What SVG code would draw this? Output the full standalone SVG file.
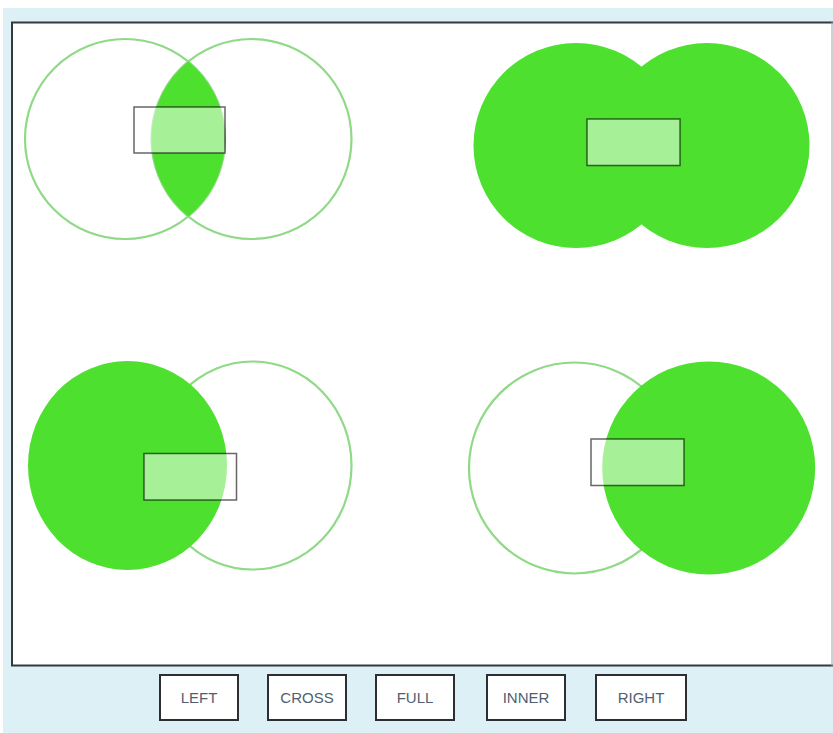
<svg xmlns="http://www.w3.org/2000/svg" width="833" height="733" viewBox="0 0 833 733">
<style>
.bg{fill:#dcf0f6}
.panel{fill:#ffffff;stroke:#333a3e;stroke-width:2}
.fill{fill:#4de02e}
.ring{fill:none;stroke:#8fd987;stroke-width:2.2}
.sel{fill:#ffffff;fill-opacity:0.5;stroke:#000;stroke-opacity:0.6;stroke-width:1.5}
.btn{fill:#ffffff;stroke:#2b2f33;stroke-width:2}
.lbl{font-family:"Liberation Sans",Arial,sans-serif;font-size:15px;fill:#4f6170;text-anchor:middle}
</style>
<rect x="0" y="0" width="833" height="733" fill="#ffffff"/>
<rect class="bg" x="3" y="8" width="830" height="725"/>
<rect class="panel" x="12" y="22.5" width="830" height="643"/>
<line x1="832" y1="22" x2="832" y2="666" stroke="#9aa3a8" stroke-width="1"/>

<g id="inner">
  <circle class="ring" cx="125" cy="139" r="100"/>
  <circle class="ring" cx="251.5" cy="139" r="100"/>
  <path class="fill" d="M188.25,61.5 A100,100 0 0,1 188.25,216.5 A100,100 0 0,1 188.25,61.5 Z"/>
  <rect class="sel" x="134" y="107" width="91" height="46"/>
</g>

<g id="full">
  <circle class="fill" cx="576" cy="145.5" r="102.5"/>
  <circle class="fill" cx="707" cy="145.5" r="102.5"/>
  <rect class="sel" x="587" y="119" width="93" height="46.5"/>
</g>

<g id="left">
  <ellipse class="ring" cx="252.5" cy="465.5" rx="99" ry="104"/>
  <ellipse class="fill" cx="127.5" cy="465.5" rx="99.5" ry="104.5"/>
  <rect class="sel" x="144" y="453.5" width="92.5" height="46.5"/>
</g>

<g id="right">
  <circle class="ring" cx="574.5" cy="468" r="105.5"/>
  <circle class="fill" cx="708.7" cy="468" r="106.5"/>
  <rect class="sel" x="591" y="439" width="93" height="46.5"/>
</g>

<g id="btn-left"><rect class="btn" x="160" y="675" width="78" height="45"/><text class="lbl" x="199" y="703">LEFT</text></g>
<g id="btn-cross"><rect class="btn" x="268" y="675" width="78" height="45"/><text class="lbl" x="307" y="703">CROSS</text></g>
<g id="btn-full"><rect class="btn" x="376" y="675" width="78" height="45"/><text class="lbl" x="415" y="703">FULL</text></g>
<g id="btn-inner"><rect class="btn" x="487" y="675" width="78" height="45"/><text class="lbl" x="526" y="703">INNER</text></g>
<g id="btn-right"><rect class="btn" x="596" y="675" width="90" height="45"/><text class="lbl" x="641" y="703">RIGHT</text></g>
<g id="connectors"/>
</svg>
